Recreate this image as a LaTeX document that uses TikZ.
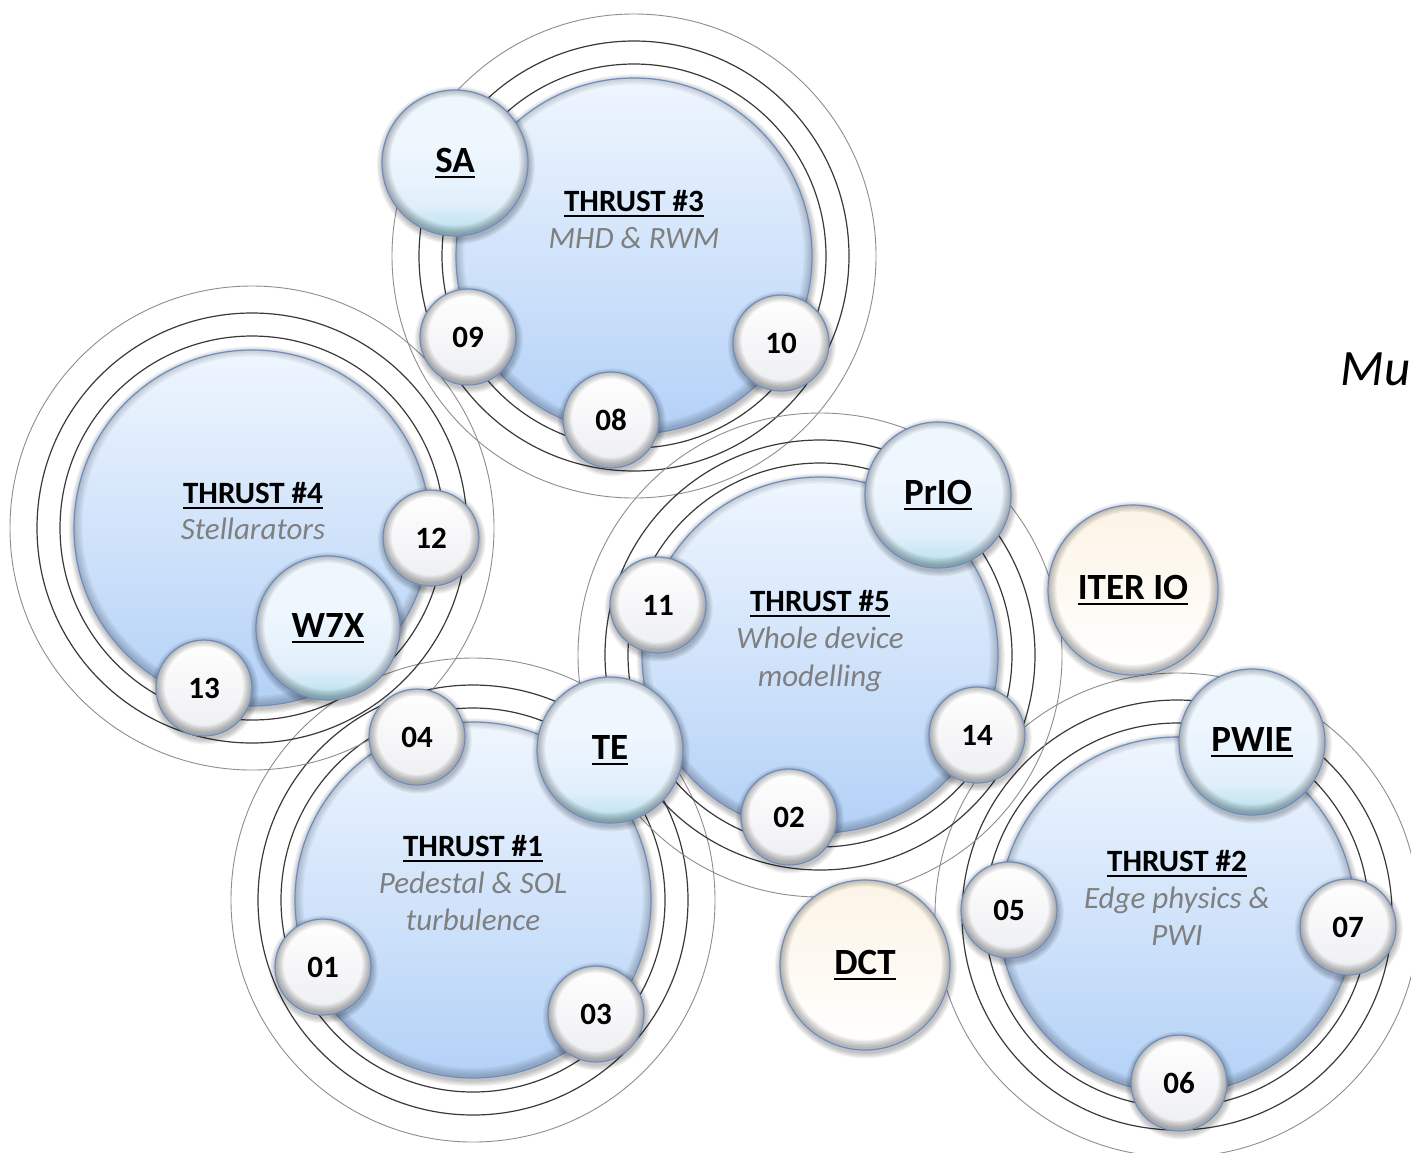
\documentclass[tikz,border=0pt]{standalone}
\usepackage{fontspec}
\setmainfont{Carlito}
\usetikzlibrary{calc}

\definecolor{mainTop}{HTML}{EFF6FE}
\definecolor{mainMid}{HTML}{D5E7FB}
\definecolor{mainBot}{HTML}{B3D1F7}
\definecolor{edgeCol}{HTML}{6C8DC1}
\definecolor{tagTop}{HTML}{EEF6FE}
\definecolor{tagMid}{HTML}{E1EFFB}
\definecolor{tagBot}{HTML}{B4E0EB}
\definecolor{numTop}{HTML}{FFFFFF}
\definecolor{numBot}{HTML}{EDEEF1}
\definecolor{creamTop}{HTML}{FCF4E5}
\definecolor{creamBot}{HTML}{FFFFFF}
\definecolor{subGray}{HTML}{7F7F7F}
\definecolor{ringDark}{HTML}{3A3A3A}
\definecolor{ringLight}{HTML}{8E8E8E}

% tag discs stay pale and turn cyan only near the bottom
\pgfdeclareverticalshading{tagshade}{100bp}{%
  color(0bp)=(tagBot); color(25bp)=(tagBot); color(36bp)=(tagMid);
  color(55bp)=(tagTop); color(75bp)=(tagTop); color(100bp)=(tagTop)}

% underline with a firmer rule than \underline
\newcommand\uln[1]{\leavevmode\vtop{\hbox{#1}\kern1.7pt\hrule height 0.95pt}}

% a shaded disc: soft shadow, the named node, an inner rim and its edge
% #1 name, #2 centre, #3 radius, #4 style, #5 rim opacity, #6 label
\newcommand\bubble[6]{%
  \foreach \s in {1,...,5}{\fill[black, opacity=0.05] ($(#2)+(0.8,2.4)$) circle ({#3+\s*1.2});}
  \node[#4, minimum size={#3*1pt}] (#1) at (#2) {#6};
  \begin{scope}
    \clip (#1.center) circle (#3);
    \foreach \s [evaluate=\s as \lw using \s*1.4] in {1,...,6}
      {\draw[black, opacity=#5, line width=\lw pt] ($(#1.center)+(0,-1.8)$) circle (#3);}
  \end{scope}
  \draw[draw=edgeCol, line width=0.6pt] (#1.center) circle (#3);
}

\tikzset{
  disc/.style={circle, inner sep=0pt, text=black},
  thrustdisc/.style={disc, top color=mainTop, middle color=mainMid, bottom color=mainBot},
  tagdisc/.style={disc, shading=tagshade,
    font=\bfseries\fontsize{18.5}{22}\selectfont},
  numdisc/.style={disc, top color=numTop, bottom color=numBot,
    font=\bfseries\fontsize{15.5}{18}\selectfont},
  creamdisc/.style={disc, top color=creamTop, bottom color=creamBot,
    font=\bfseries\fontsize{18.5}{22}\selectfont},
  title/.style={anchor=base, font=\bfseries\fontsize{15.5}{18}\selectfont},
  subtitle/.style={anchor=base, font=\itshape\fontsize{15.5}{18}\selectfont, text=subGray},
  ringA/.style={draw=ringDark, line width=0.6pt},
  ringB/.style={draw=ringLight, line width=0.45pt},
}

\begin{document}
\begin{tikzpicture}[x=0.5pt, y=-0.5pt]
\useasboundingbox (0,0) rectangle (1411,1152);
\clip (0,0) rectangle (1411,1152);
\fill[white] (0,0) rectangle (1411,1152);

% the five thrust discs
\bubble{T3}{634,256}{178}{thrustdisc}{0.035}{}
\bubble{T4}{252,528}{178}{thrustdisc}{0.035}{}
\bubble{T5}{820,655}{178}{thrustdisc}{0.035}{}
\bubble{T1}{473,900}{178}{thrustdisc}{0.035}{}
\bubble{T2}{1177,915}{178}{thrustdisc}{0.035}{}

% orbit rings round each thrust
\foreach \t in {T1,T2,T3,T4,T5}{
  \draw[ringA] (\t.center) circle (192);
  \draw[ringA] (\t.center) circle (215);
  \draw[ringB] (\t.center) circle (242);
}

% thrust titles
\node[title] (T3t) at (634,211) {\uln{THRUST \#3}};
\node[subtitle] (T3s) at (634,248) {MHD \& RWM};
\node[title] (T4t) at (253,503) {\uln{THRUST \#4}};
\node[subtitle] (T4s) at (253,539) {Stellarators};
\node[title] (T5t) at (820,611) {\uln{THRUST \#5}};
\node[subtitle] (T5s) at (820,648) {Whole device};
\node[subtitle] (T5u) at (820,686) {modelling};
\node[title] (T1t) at (473,856) {\uln{THRUST \#1}};
\node[subtitle] (T1s) at (473,893) {Pedestal \& SOL};
\node[subtitle] (T1u) at (473,930) {turbulence};
\node[title] (T2t) at (1177,871) {\uln{THRUST \#2}};
\node[subtitle] (T2s) at (1177,908) {Edge physics \&};
\node[subtitle] (T2u) at (1177,945) {PWI};

% numbered tasks
\bubble{n09}{468,337}{48}{numdisc}{0.055}{09}
\bubble{n10}{781,343}{48}{numdisc}{0.055}{10}
\bubble{n08}{611,420}{48}{numdisc}{0.055}{08}
\bubble{n12}{431,538}{48}{numdisc}{0.055}{12}
\bubble{n13}{204,688}{48}{numdisc}{0.055}{13}
\bubble{n11}{658,605}{48}{numdisc}{0.055}{11}
\bubble{n14}{977,735}{48}{numdisc}{0.055}{14}
\bubble{n02}{789,817}{48}{numdisc}{0.055}{02}
\bubble{n04}{417,737}{48}{numdisc}{0.055}{04}
\bubble{n01}{323,967}{48}{numdisc}{0.055}{01}
\bubble{n03}{596,1014}{48}{numdisc}{0.055}{03}
\bubble{n05}{1009,910}{48}{numdisc}{0.055}{05}
\bubble{n07}{1348,927}{48}{numdisc}{0.055}{07}
\bubble{n06}{1179,1083}{48}{numdisc}{0.055}{06}

% partner tags
\bubble{SA}{455,163}{73}{tagdisc}{0.05}{\uln{SA}}
\bubble{W7X}{328,628}{72}{tagdisc}{0.05}{\uln{W7X}}
\bubble{PrIO}{938,495}{73}{tagdisc}{0.05}{\uln{PrIO}}
\bubble{TE}{610,750}{73}{tagdisc}{0.05}{\uln{TE}}
\bubble{PWIE}{1252,742}{73}{tagdisc}{0.05}{\uln{PWIE}}

% external bodies
\bubble{ITERIO}{1133,590}{85}{creamdisc}{0.05}{\uln{ITER IO}}
\bubble{DCT}{865,965}{85}{creamdisc}{0.05}{\uln{DCT}}

\node[anchor=base west, inner sep=0pt, font=\itshape\fontsize{25.5}{30}\selectfont] (mu) at (1340,385) {Mu};
\end{tikzpicture}
\end{document}
